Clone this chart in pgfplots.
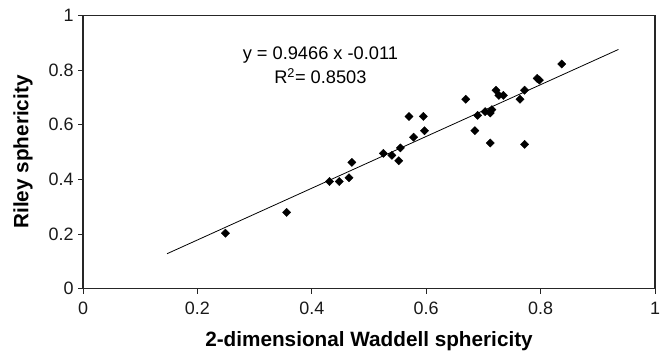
\documentclass[border=0pt]{standalone}
\usepackage{fontspec}
\setmainfont{Liberation Sans}
\usepackage{pgfplots}
\pgfplotsset{compat=1.18}
\begin{document}
\begin{tikzpicture}
\path[use as bounding box] (-83bp,-65.3bp) rectangle (583bp,288.7bp);
\begin{axis}[
  at={(0,0)}, anchor=south west,
  scale only axis, width=572bp, height=273.4bp,
  xmin=0, xmax=1, ymin=0, ymax=1,
  xtick={0,0.2,0.4,0.6,0.8,1}, ytick={0,0.2,0.4,0.6,0.8,1},
  tick align=outside, xtick pos=left, ytick pos=left,
  major tick length=5bp,
  axis line style={line width=1.1pt, black!85},
  tick style={line width=0.8pt, black!85},
  /pgf/number format/assume math mode=true,
  tick label style={font=\fontsize{18}{20}\selectfont, text=black!90},
  xticklabel style={yshift=-5bp},
  yticklabel style={xshift=-1bp},
  xlabel={2-dimensional Waddell sphericity},
  ylabel={Riley sphericity},
  label style={font=\fontsize{20.8}{24}\selectfont\bfseries},
  xlabel style={at={(axis description cs:0.5,-0.19)}, anchor=center},
  ylabel style={at={(axis description cs:-0.105,0.5)}, anchor=center},
  clip=false,
]
\addplot[only marks, mark=square*, mark size=2.9bp, mark options={rotate=45, fill=black, draw=black}] coordinates {
(0.249,0.203) (0.356,0.279) (0.431,0.392) (0.448,0.392) (0.465,0.406)
(0.470,0.462) (0.525,0.495) (0.540,0.488) (0.552,0.468) (0.555,0.515)
(0.570,0.630) (0.578,0.554) (0.595,0.630) (0.597,0.578) (0.669,0.693)
(0.685,0.578) (0.690,0.634) (0.703,0.648) (0.712,0.643) (0.715,0.655)
(0.712,0.533) (0.722,0.726) (0.727,0.707) (0.735,0.707) (0.764,0.693)
(0.772,0.726) (0.772,0.528) (0.794,0.769) (0.798,0.763) (0.837,0.822)
};
\addplot[black, line width=0.8pt] coordinates {(0.147,0.128) (0.936,0.875)};
\node[font=\fontsize{18.3}{20}\selectfont] at (axis cs:0.415,0.855) {y = 0.9466 x -0.011};
\node[font=\fontsize{18.3}{20}\selectfont] at (axis cs:0.415,0.778) {R\textsuperscript{2}= 0.8503};
\end{axis}
\end{tikzpicture}
\end{document}
